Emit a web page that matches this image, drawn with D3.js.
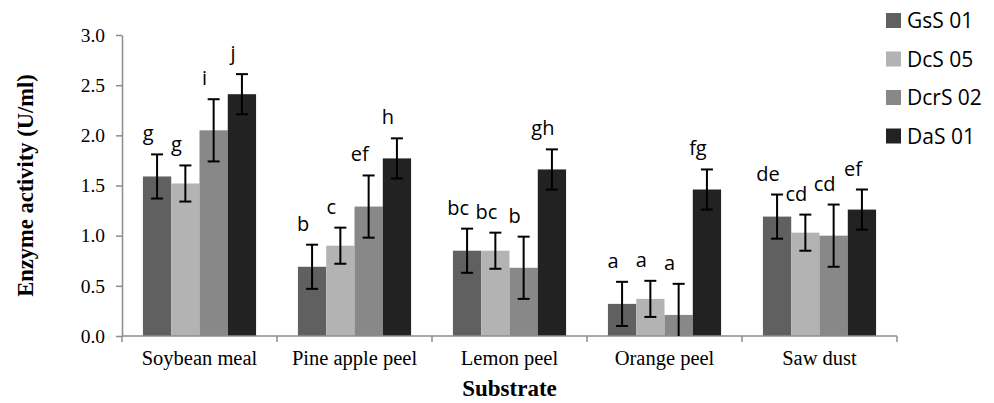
<!DOCTYPE html>
<html>
<head>
<meta charset="utf-8">
<script src="https://cdn.jsdelivr.net/npm/d3@7/dist/d3.min.js"></script>
<style>
  html, body { margin: 0; padding: 0; background: #fff; }
  svg { display: block; }
</style>
</head>
<body>
<svg id="chart" width="994" height="403"></svg>
<script>
const categories = ["Soybean meal", "Pine apple peel", "Lemon peel", "Orange peel", "Saw dust"];
const seriesNames = ["GsS 01", "DcS 05", "DcrS 02", "DaS 01"];
const gss01 = [1.59, 0.69, 0.85, 0.32, 1.19];
const dcs05 = [1.52, 0.90, 0.85, 0.37, 1.03];
const dcrs02 = [2.05, 1.29, 0.68, 0.21, 1.00];
const das01 = [2.41, 1.77, 1.66, 1.46, 1.26];
const gss01Err = [0.22, 0.22, 0.22, 0.22, 0.22];
const dcs05Err = [0.18, 0.18, 0.18, 0.18, 0.18];
const dcrs02Err = [0.31, 0.31, 0.31, 0.31, 0.31];
const das01Err = [0.20, 0.20, 0.20, 0.20, 0.20];
const gss01Letters = ["g", "b", "bc", "a", "de"];
const dcs05Letters = ["g", "c", "bc", "a", "cd"];
const dcrs02Letters = ["i", "ef", "b", "a", "cd"];
const das01Letters = ["j", "h", "gh", "fg", "ef"];
const yTicks = [0, 0.5, 1.0, 1.5, 2.0, 2.5, 3.0];

const seriesValues = [gss01, dcs05, dcrs02, das01];
const seriesErr = [gss01Err, dcs05Err, dcrs02Err, das01Err];
const seriesLetters = [gss01Letters, dcs05Letters, dcrs02Letters, das01Letters];
const colors = ["#606060", "#b3b3b3", "#888888", "#222222"];

const svg = d3.select("#chart");
const mLeft = 122, mRight = 897, mTop = 35, mBottom = 336;

const x = d3.scaleBand().domain(categories).range([mLeft, mRight]).padding(0);
const xs = d3.scaleBand().domain(seriesNames).range([0, x.bandwidth()]).paddingInner(0).paddingOuter(0.74);
const y = d3.scaleLinear().domain([0, 3]).range([mBottom, mTop]);

const data = [];
categories.forEach((c, ci) => {
  seriesNames.forEach((s, si) => {
    data.push({ c, s, si, v: seriesValues[si][ci], e: seriesErr[si][ci], l: seriesLetters[si][ci] });
  });
});

// bars
svg.append("g").selectAll("rect").data(data).join("rect")
  .attr("x", d => x(d.c) + xs(d.s))
  .attr("y", d => y(d.v))
  .attr("width", xs.bandwidth())
  .attr("height", d => y(0) - y(d.v))
  .attr("fill", d => colors[d.si]);

// axes
const axisColor = "#8c8c8c";
const serif = "Liberation Serif, Times New Roman, serif";
const sans = "Open Sans, Noto Sans, sans-serif";
const yAxis = svg.append("g").attr("transform", `translate(${mLeft},0)`)
  .call(d3.axisLeft(y).tickValues(yTicks).tickFormat(d3.format(".1f")).tickSize(6).tickSizeOuter(0));
yAxis.select(".domain").attr("stroke", axisColor).attr("stroke-width", 1.5);
yAxis.selectAll(".tick line").attr("stroke", axisColor).attr("stroke-width", 1.5);
yAxis.selectAll(".tick text").attr("font-family", serif)
  .attr("font-size", 19.5).attr("fill", "#000").attr("x", -17);

const xAxis = svg.append("g").attr("transform", `translate(0,${mBottom})`);
xAxis.append("line").attr("x1", mLeft).attr("x2", mRight).attr("y1", 0).attr("y2", 0)
  .attr("stroke", axisColor).attr("stroke-width", 1.5);
const boundaries = categories.map(c => x(c)).concat([x(categories[categories.length - 1]) + x.bandwidth()]);
xAxis.selectAll("line.tk").data(boundaries).join("line").attr("class", "tk")
  .attr("x1", d => d).attr("x2", d => d).attr("y1", 0).attr("y2", 6)
  .attr("stroke", axisColor).attr("stroke-width", 1.5);
xAxis.selectAll("text").data(categories).join("text")
  .attr("x", d => x(d) + x.bandwidth() / 2).attr("y", 29)
  .attr("text-anchor", "middle")
  .attr("font-family", serif).attr("font-size", 20.5)
  .text(d => d);

// error bars
const cap = 6;
const eg = svg.append("g").attr("stroke", "#000").attr("stroke-width", 2);
data.forEach(d => {
  const cx = x(d.c) + xs(d.s) + xs.bandwidth() / 2;
  const yt = y(d.v + d.e), yb = y(Math.max(0, d.v - d.e));
  eg.append("line").attr("x1", cx).attr("x2", cx).attr("y1", yt).attr("y2", yb);
  eg.append("line").attr("x1", cx - cap).attr("x2", cx + cap).attr("y1", yt).attr("y2", yt);
  if (d.v - d.e > 0) eg.append("line").attr("x1", cx - cap).attr("x2", cx + cap).attr("y1", yb).attr("y2", yb);
});

// letters
svg.append("g").selectAll("text").data(data).join("text")
  .attr("x", d => x(d.c) + xs(d.s) + xs.bandwidth() / 2 - 9)
  .attr("y", d => y(d.v + d.e) - 14)
  .attr("text-anchor", "middle")
  .attr("font-family", sans).attr("font-size", 20)
  .attr("fill", "#000")
  .text(d => d.l);

// axis titles
svg.append("text")
  .attr("transform", `translate(33,${(mTop + mBottom) / 2}) rotate(-90)`)
  .attr("text-anchor", "middle")
  .attr("font-family", serif).attr("font-size", 22.5).attr("font-weight", "bold")
  .text("Enzyme activity (U/ml)");
svg.append("text")
  .attr("x", (mLeft + mRight) / 2).attr("y", 396)
  .attr("text-anchor", "middle")
  .attr("font-family", serif).attr("font-size", 23).attr("font-weight", "bold")
  .text("Substrate");

// legend
const lg = svg.append("g").attr("transform", "translate(886,0)");
seriesNames.forEach((s, i) => {
  const cy = 20 + i * 38.5;
  lg.append("rect").attr("x", 0).attr("y", cy - 7).attr("width", 15).attr("height", 15).attr("fill", colors[i]);
  lg.append("text").attr("x", 21).attr("y", cy + 1).attr("dy", "0.35em")
    .attr("font-family", sans).attr("font-size", 21).text(s);
});
</script>
</body>
</html>
